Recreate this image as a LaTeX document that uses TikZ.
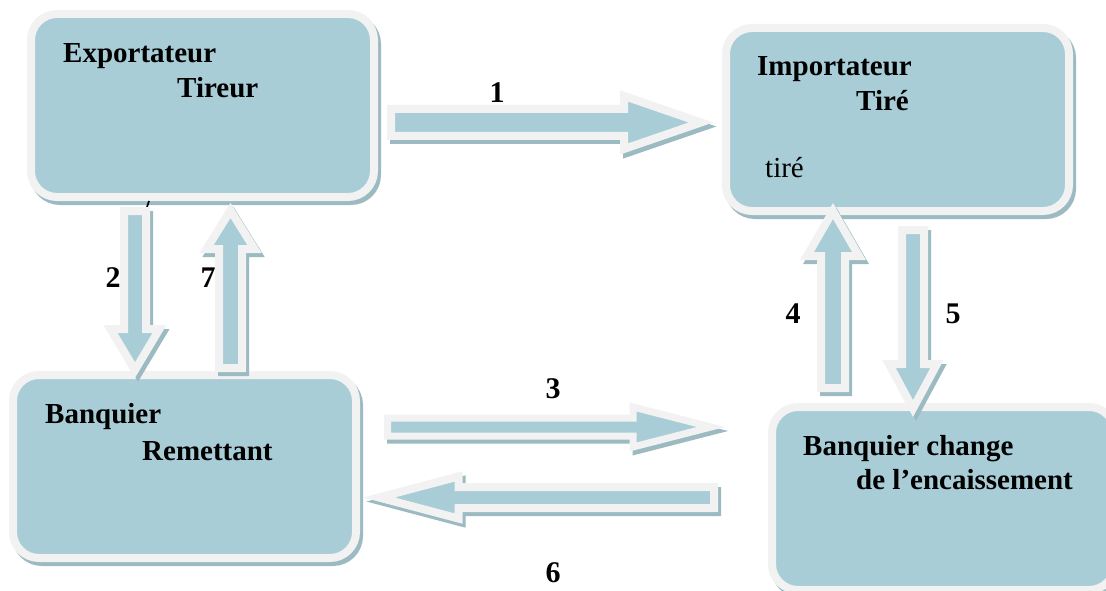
\documentclass[tikz,border=0pt]{standalone}
\usepackage{fontspec}
\setmainfont{Liberation Serif}
\usetikzlibrary{calc}

\definecolor{boxfill}{RGB}{168,205,214}
\definecolor{rimcol}{RGB}{242,242,242}
\definecolor{shadecol}{RGB}{155,186,194}

\pgfdeclarelayer{shade}
\pgfsetlayers{shade,main}

% block arrow: #1 tail centre, #2 tip, #3 shaft half width, #4 head half width,
% #5 head length, #6 rim width
\newcommand\blockarrow[6]{%
  \coordinate (hb) at ($(#2)!#5!(#1)$);
  \begin{scope}[transform canvas={shift={(3pt,-4pt)}}]
    \filldraw[arrowshade, line width=#6]
      ($(#1)!#3!90:(#2)$) -- ($(hb)!#3!90:(#2)$) -- ($(hb)!#4!90:(#2)$) -- (#2)
      -- ($(hb)!#4!-90:(#2)$) -- ($(hb)!#3!-90:(#2)$) -- ($(#1)!#3!-90:(#2)$) -- cycle;
  \end{scope}
  \filldraw[arrowbody, line width=#6]
    ($(#1)!#3!90:(#2)$) -- ($(hb)!#3!90:(#2)$) -- ($(hb)!#4!90:(#2)$) -- (#2)
    -- ($(hb)!#4!-90:(#2)$) -- ($(hb)!#3!-90:(#2)$) -- ($(#1)!#3!-90:(#2)$) -- cycle;
}

\tikzset{
  actor/.style={rectangle, rounded corners=26pt, minimum width=343pt,
    minimum height=183pt, fill=boxfill, draw=rimcol, line width=8pt,
    outer sep=0pt, inner sep=0pt},
  actorshade/.style={rounded corners=26pt, fill=shadecol, draw=shadecol, line width=8pt},
  arrowbody/.style={fill=boxfill, draw=rimcol, line join=miter},
  arrowshade/.style={fill=shadecol, draw=shadecol, line join=miter},
  lbl/.style={font=\fontsize{29}{33}\selectfont\bfseries, inner sep=0pt, anchor=base west},
  plain/.style={font=\fontsize{29}{33}\selectfont, inner sep=0pt, anchor=base west},
  num/.style={font=\fontsize{30}{34}\selectfont\bfseries, inner sep=0pt, anchor=base},
}

\begin{document}
\begin{tikzpicture}[x=1pt, y=-1pt]
\useasboundingbox (0,0) rectangle (1106,591);
\begin{pgfonlayer}{shade}
  \fill[white] (0,0) rectangle (1106,591);
\end{pgfonlayer}

% the four parties
\node[actor] (b1) at (202.5,105.5) {};
\node[actor] (b2) at (897.5,119.5) {};
\node[actor] (b3) at (184.5,466.5) {};
\node[actor] (b4) at (943.5,498.5) {};

\begin{pgfonlayer}{shade}
  \foreach \b in {b1,b2,b3,b4}
    \draw[actorshade] ($(\b.south west)+(3,4)$) rectangle ($(\b.north east)+(3,4)$);
\end{pgfonlayer}

% captions
\node[lbl] (t1a) at (63,63) {Exportateur};
\node[lbl] (t1b) at (177,98) {Tireur};
\node[lbl] (t2a) at (757,76) {Importateur};
\node[lbl] (t2b) at (856,111) {Tiré};
\node[plain] (t2c) at (765,178) {tiré};
\node[lbl] (t3a) at (45,423) {Banquier};
\node[lbl] (t3b) at (142,460) {Remettant};
\node[lbl] (t4a) at (803,455) {Banquier change};
\node[lbl] (t4b) at (856,489) {de l’encaissement};

% small stray stroke under the first box
\draw[line width=1.6pt] (149,201) -- (147,207);

% arrow end points
\coordinate (a1s) at (391,122.5);   \coordinate (a1t) at (701,122.5);
\coordinate (a2s) at (135,211);     \coordinate (a2t) at (135,370);
\coordinate (a3s) at (387.5,427);   \coordinate (a3t) at (711,427);
\coordinate (a4s) at (833,388);     \coordinate (a4t) at (833,211);
\coordinate (a5s) at (913,230);     \coordinate (a5t) at (913,408.5);
\coordinate (a6s) at (714,497.5);   \coordinate (a6t) at (379,497.5);
\coordinate (a7s) at (230.5,368);   \coordinate (a7t) at (230.5,210.5);

\blockarrow{a1s}{a1t}{13.5pt}{26.5pt}{77pt}{8pt}
\blockarrow{a2s}{a2t}{11pt}{24.5pt}{41pt}{8pt}
\blockarrow{a7s}{a7t}{11.5pt}{24pt}{38.5pt}{8pt}
\blockarrow{a3s}{a3t}{9pt}{20pt}{78pt}{7pt}
\blockarrow{a6s}{a6t}{10.5pt}{21pt}{79.5pt}{8pt}
\blockarrow{a4s}{a4t}{12pt}{26pt}{45pt}{8pt}
\blockarrow{a5s}{a5t}{11pt}{24pt}{44.5pt}{8pt}

% step numbers
\node[num] (n1) at (497,103) {1};
\node[num] (n2) at (113,287) {2};
\node[num] (n3) at (553,398) {3};
\node[num] (n4) at (793,323) {4};
\node[num] (n5) at (953,323) {5};
\node[num] (n6) at (553,582) {6};
\node[num] (n7) at (208,287) {7};
\end{tikzpicture}
\end{document}
